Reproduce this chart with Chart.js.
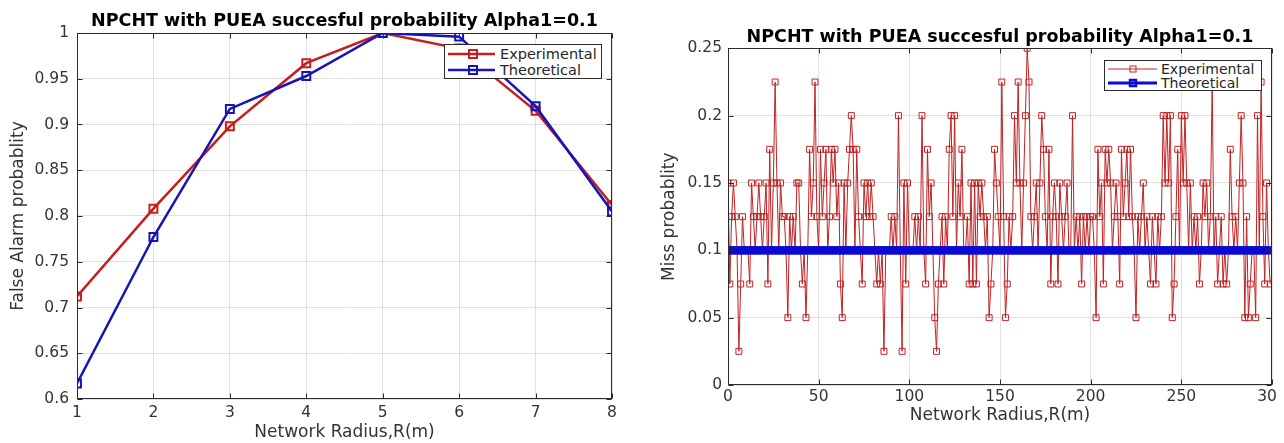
<!DOCTYPE html>
<html>
<head>
<meta charset="utf-8">
<script src="https://cdn.jsdelivr.net/npm/chart.js@4.4.1/dist/chart.umd.min.js"></script>
<style>
html,body{margin:0;padding:0;background:#fff;overflow:hidden;width:1284px;height:443px;}
#wrapL{position:absolute;left:0;top:0;width:640px;height:443px;}
#wrapR{position:absolute;left:640px;top:0;width:636px;height:443px;overflow:hidden;}
.legend{position:absolute;background:#fff;border:1px solid #2b2b2b;font-family:"DejaVu Sans",sans-serif;color:#262626;box-sizing:border-box;}
.legend .row{position:absolute;left:0;height:16px;white-space:nowrap;}
.legend svg{position:absolute;left:0;top:0;}
.legend span{position:absolute;top:0;line-height:16px;}
</style>
</head>
<body>
<div id="wrapL"><canvas id="left" width="640" height="443"></canvas></div>
<div id="wrapR"><canvas id="right" width="700" height="443"></canvas></div>

<div class="legend" id="legL" style="left:444px;top:44px;width:158px;height:35px;font-size:14.5px;">
  <div class="row" style="top:1px;width:156px;">
    <svg width="54" height="16"><line x1="3" y1="8" x2="50" y2="8" stroke="#c41e1e" stroke-width="2.5"/><rect x="24" y="4" width="8" height="8" fill="none" stroke="#c41e1e" stroke-width="2"/></svg>
    <span style="left:55px;">Experimental</span>
  </div>
  <div class="row" style="top:17px;width:156px;">
    <svg width="54" height="16"><line x1="3" y1="8" x2="50" y2="8" stroke="#1414b8" stroke-width="2.5"/><rect x="24" y="4" width="8" height="8" fill="none" stroke="#1414b8" stroke-width="2"/></svg>
    <span style="left:55px;">Theoretical</span>
  </div>
</div>

<div class="legend" id="legR" style="left:1104px;top:60px;width:158px;height:31px;font-size:14px;">
  <div class="row" style="top:0px;width:156px;">
    <svg width="54" height="16"><line x1="3" y1="8" x2="52" y2="8" stroke="#c42424" stroke-width="1"/><rect x="25" y="5" width="6" height="6" fill="none" stroke="#c42424" stroke-width="1"/></svg>
    <span style="left:56px;">Experimental</span>
  </div>
  <div class="row" style="top:14px;width:156px;">
    <svg width="54" height="16"><line x1="3" y1="8" x2="52" y2="8" stroke="#0a0ad2" stroke-width="3"/><rect x="25" y="5" width="6" height="6" fill="none" stroke="#0a0ad2" stroke-width="2.5"/></svg>
    <span style="left:56px;">Theoretical</span>
  </div>
</div>

<script>
// ---------- data: left panel ----------
const radiusLeft = [1, 2, 3, 4, 5, 6, 7, 8];
const falseAlarmExperimental = [0.712, 0.808, 0.898, 0.967, 1.0, 0.983, 0.915, 0.812];
const falseAlarmTheoretical  = [0.617, 0.777, 0.917, 0.953, 1.0, 0.996, 0.920, 0.805];
const xTicksLeft = [1, 2, 3, 4, 5, 6, 7, 8];
const xTickLabelsLeft = ['1', '2', '3', '4', '5', '6', '7', '8'];
const yTicksLeft = [0.6, 0.65, 0.7, 0.75, 0.8, 0.85, 0.9, 0.95, 1];
const yTickLabelsLeft = ['0.6', '0.65', '0.7', '0.75', '0.8', '0.85', '0.9', '0.95', '1'];

// ---------- data: right panel ----------
const missExperimental = [
  0.15, 0.075, 0.125, 0.15, 0.125, 0.1, 0.025, 0.075, 0.125, 0.1,
  0.1, 0.1, 0.075, 0.15, 0.125, 0.1, 0.125, 0.15, 0.125, 0.1,
  0.125, 0.15, 0.075, 0.175, 0.1, 0.15, 0.225, 0.15, 0.1, 0.15,
  0.125, 0.125, 0.1, 0.05, 0.125, 0.1, 0.125, 0.1, 0.15, 0.15,
  0.1, 0.075, 0.1, 0.05, 0.1, 0.175, 0.125, 0.15, 0.225, 0.125,
  0.1, 0.175, 0.125, 0.15, 0.175, 0.1, 0.125, 0.175, 0.15, 0.175,
  0.125, 0.15, 0.075, 0.05, 0.15, 0.1, 0.15, 0.175, 0.2, 0.175,
  0.1, 0.175, 0.125, 0.1, 0.075, 0.15, 0.125, 0.15, 0.125, 0.15,
  0.125, 0.1, 0.075, 0.1, 0.075, 0.1, 0.025, 0.1, 0.1, 0.1,
  0.125, 0.1, 0.125, 0.1, 0.2, 0.1, 0.025, 0.15, 0.075, 0.15,
  0.1, 0.1, 0.1, 0.125, 0.1, 0.125, 0.1, 0.2, 0.1, 0.075,
  0.175, 0.125, 0.15, 0.1, 0.05, 0.025, 0.075, 0.1, 0.125, 0.075,
  0.125, 0.1, 0.175, 0.2, 0.125, 0.2, 0.1, 0.15, 0.125, 0.175,
  0.1, 0.1, 0.125, 0.075, 0.15, 0.075, 0.15, 0.075, 0.15, 0.125,
  0.15, 0.125, 0.1, 0.125, 0.05, 0.075, 0.1, 0.175, 0.15, 0.125,
  0.1, 0.225, 0.125, 0.05, 0.075, 0.125, 0.1, 0.125, 0.2, 0.15,
  0.225, 0.15, 0.1, 0.15, 0.2, 0.25, 0.225, 0.125, 0.1, 0.125,
  0.15, 0.1, 0.15, 0.2, 0.175, 0.125, 0.1, 0.175, 0.075, 0.125,
  0.15, 0.125, 0.075, 0.15, 0.125, 0.1, 0.125, 0.15, 0.1, 0.1,
  0.2, 0.1, 0.125, 0.1, 0.125, 0.075, 0.125, 0.1, 0.125, 0.1,
  0.125, 0.125, 0.1, 0.05, 0.175, 0.125, 0.15, 0.075, 0.175, 0.15,
  0.175, 0.15, 0.1, 0.125, 0.15, 0.125, 0.075, 0.175, 0.125, 0.15,
  0.175, 0.125, 0.175, 0.125, 0.1, 0.05, 0.125, 0.1, 0.125, 0.15,
  0.1, 0.125, 0.1, 0.075, 0.125, 0.1, 0.075, 0.125, 0.1, 0.125,
  0.2, 0.15, 0.2, 0.15, 0.2, 0.05, 0.075, 0.125, 0.175, 0.1,
  0.2, 0.15, 0.2, 0.15, 0.1, 0.15, 0.1, 0.125, 0.1, 0.125,
  0.075, 0.1, 0.15, 0.125, 0.15, 0.1, 0.125, 0.225, 0.1, 0.125,
  0.075, 0.1, 0.125, 0.075, 0.1, 0.075, 0.1, 0.175, 0.125, 0.1,
  0.125, 0.1, 0.15, 0.2, 0.15, 0.05, 0.125, 0.05, 0.075, 0.1,
  0.1, 0.05, 0.2, 0.1, 0.225, 0.125, 0.075, 0.15, 0.1, 0.075
];
const missTheoretical = [
  0.1, 0.1, 0.1, 0.1, 0.1, 0.1, 0.1, 0.1, 0.1, 0.1,
  0.1, 0.1, 0.1, 0.1, 0.1, 0.1, 0.1, 0.1, 0.1, 0.1,
  0.1, 0.1, 0.1, 0.1, 0.1, 0.1, 0.1, 0.1, 0.1, 0.1,
  0.1, 0.1, 0.1, 0.1, 0.1, 0.1, 0.1, 0.1, 0.1, 0.1,
  0.1, 0.1, 0.1, 0.1, 0.1, 0.1, 0.1, 0.1, 0.1, 0.1,
  0.1, 0.1, 0.1, 0.1, 0.1, 0.1, 0.1, 0.1, 0.1, 0.1,
  0.1, 0.1, 0.1, 0.1, 0.1, 0.1, 0.1, 0.1, 0.1, 0.1,
  0.1, 0.1, 0.1, 0.1, 0.1, 0.1, 0.1, 0.1, 0.1, 0.1,
  0.1, 0.1, 0.1, 0.1, 0.1, 0.1, 0.1, 0.1, 0.1, 0.1,
  0.1, 0.1, 0.1, 0.1, 0.1, 0.1, 0.1, 0.1, 0.1, 0.1,
  0.1, 0.1, 0.1, 0.1, 0.1, 0.1, 0.1, 0.1, 0.1, 0.1,
  0.1, 0.1, 0.1, 0.1, 0.1, 0.1, 0.1, 0.1, 0.1, 0.1,
  0.1, 0.1, 0.1, 0.1, 0.1, 0.1, 0.1, 0.1, 0.1, 0.1,
  0.1, 0.1, 0.1, 0.1, 0.1, 0.1, 0.1, 0.1, 0.1, 0.1,
  0.1, 0.1, 0.1, 0.1, 0.1, 0.1, 0.1, 0.1, 0.1, 0.1,
  0.1, 0.1, 0.1, 0.1, 0.1, 0.1, 0.1, 0.1, 0.1, 0.1,
  0.1, 0.1, 0.1, 0.1, 0.1, 0.1, 0.1, 0.1, 0.1, 0.1,
  0.1, 0.1, 0.1, 0.1, 0.1, 0.1, 0.1, 0.1, 0.1, 0.1,
  0.1, 0.1, 0.1, 0.1, 0.1, 0.1, 0.1, 0.1, 0.1, 0.1,
  0.1, 0.1, 0.1, 0.1, 0.1, 0.1, 0.1, 0.1, 0.1, 0.1,
  0.1, 0.1, 0.1, 0.1, 0.1, 0.1, 0.1, 0.1, 0.1, 0.1,
  0.1, 0.1, 0.1, 0.1, 0.1, 0.1, 0.1, 0.1, 0.1, 0.1,
  0.1, 0.1, 0.1, 0.1, 0.1, 0.1, 0.1, 0.1, 0.1, 0.1,
  0.1, 0.1, 0.1, 0.1, 0.1, 0.1, 0.1, 0.1, 0.1, 0.1,
  0.1, 0.1, 0.1, 0.1, 0.1, 0.1, 0.1, 0.1, 0.1, 0.1,
  0.1, 0.1, 0.1, 0.1, 0.1, 0.1, 0.1, 0.1, 0.1, 0.1,
  0.1, 0.1, 0.1, 0.1, 0.1, 0.1, 0.1, 0.1, 0.1, 0.1,
  0.1, 0.1, 0.1, 0.1, 0.1, 0.1, 0.1, 0.1, 0.1, 0.1,
  0.1, 0.1, 0.1, 0.1, 0.1, 0.1, 0.1, 0.1, 0.1, 0.1,
  0.1, 0.1, 0.1, 0.1, 0.1, 0.1, 0.1, 0.1, 0.1, 0.1
];
const xTicksRight = [0, 50, 100, 150, 200, 250, 300];
const xTickLabelsRight = ['0', '50', '100', '150', '200', '250', '300'];
const yTicksRight = [0, 0.05, 0.1, 0.15, 0.2, 0.25];
const yTickLabelsRight = ['0', '0.05', '0.1', '0.15', '0.2', '0.25'];

const TITLE = 'NPCHT with PUEA succesful probability Alpha1=0.1';
const FAMILY = "'DejaVu Sans', sans-serif";
const TEXT = '#333333';
const GRID = '#e0e0e0';

// MATLAB-style axes box with inward ticks
const boxPlugin = {
  id: 'matlabBox',
  afterDraw(chart) {
    const {ctx, chartArea: a, scales} = chart;
    const x = scales.x, y = scales.y;
    const L = Math.round(a.left) + 0.5, R = Math.round(a.right) - 0.5;
    const T = Math.round(a.top) + 0.5, B = Math.round(a.bottom) - 0.5;
    ctx.save();
    ctx.strokeStyle = '#2b2b2b';
    ctx.lineWidth = 1;
    ctx.strokeRect(L, T, R - L, B - T);
    ctx.beginPath();
    const len = 5;
    x.ticks.forEach(t => {
      const px = Math.round(x.getPixelForValue(t.value)) + 0.5;
      ctx.moveTo(px, B); ctx.lineTo(px, B - len);
      ctx.moveTo(px, T); ctx.lineTo(px, T + len);
    });
    y.ticks.forEach(t => {
      const py = Math.round(y.getPixelForValue(t.value)) + 0.5;
      ctx.moveTo(L, py); ctx.lineTo(L + len, py);
      ctx.moveTo(R, py); ctx.lineTo(R - len, py);
    });
    ctx.stroke();
    ctx.restore();
  }
};

function makeChart(id, cfg) {
  return new Chart(document.getElementById(id), {
    type: 'line',
    data: { datasets: cfg.datasets },
    options: {
      responsive: false,
      animation: false,
      devicePixelRatio: 1,
      layout: { padding: { left: 0, right: cfg.padRight, top: 0, bottom: 0 } },
      plugins: {
        legend: { display: false },
        tooltip: { enabled: false },
        title: {
          display: true, fullSize: false, text: TITLE, color: '#000',
          font: { family: FAMILY, size: 17.5, weight: 'bold' },
          padding: cfg.titlePad
        }
      },
      scales: {
        x: {
          type: 'linear', min: cfg.xMin, max: cfg.xMax,
          afterBuildTicks: s => { s.ticks = cfg.xTicks.map(v => ({ value: v })); },
          afterFit: s => { s.height = cfg.xAxisH; },
          ticks: {
            autoSkip: false, maxRotation: 0, padding: cfg.xTickPad, color: TEXT,
            font: { family: FAMILY, size: 15.5 },
            callback: (v, i) => cfg.xLabels[i]
          },
          grid: { color: GRID, drawTicks: false },
          border: { display: false },
          title: {
            display: true, text: 'Network Radius,R(m)', color: TEXT,
            font: { family: FAMILY, size: 17 }, padding: { top: 0, bottom: cfg.xTitlePad }
          }
        },
        y: {
          type: 'linear', min: cfg.yMin, max: cfg.yMax,
          afterBuildTicks: s => { s.ticks = cfg.yTicks.map(v => ({ value: v })); },
          afterFit: s => { s.width = cfg.yAxisW; },
          ticks: {
            padding: cfg.yTickPad, color: TEXT,
            font: { family: FAMILY, size: 15.5 },
            callback: (v, i) => cfg.yLabels[i]
          },
          grid: { color: GRID, drawTicks: false },
          border: { display: false },
          title: {
            display: true, text: cfg.yTitle, color: TEXT,
            font: { family: FAMILY, size: 17 }, padding: { top: cfg.yTitlePad, bottom: 0 }
          }
        }
      }
    },
    plugins: [boxPlugin]
  });
}

const RED = '#c41e1e';
const BLUE = '#1414b8';

makeChart('left', {
  padRight: 28, xAxisH: 44, yAxisW: 77,
  titlePad: { top: 10.5, bottom: 1.5 },
  xMin: 1, xMax: 8, yMin: 0.6, yMax: 1,
  xTicks: xTicksLeft, xLabels: xTickLabelsLeft,
  yTicks: yTicksLeft, yLabels: yTickLabelsLeft,
  xTickPad: 5, yTickPad: 8, xTitlePad: 0, yTitlePad: 8.5,
  yTitle: 'False Alarm probablity',
  datasets: [
    {
      label: 'Experimental', order: 1,
      data: radiusLeft.map((r, i) => ({ x: r, y: falseAlarmExperimental[i] })),
      borderColor: RED, borderWidth: 2.5, tension: 0,
      pointStyle: 'rect', pointRadius: 5.6, pointBorderWidth: 2,
      pointBorderColor: RED, pointBackgroundColor: 'rgba(255,255,255,0)'
    },
    {
      label: 'Theoretical', order: 0,
      data: radiusLeft.map((r, i) => ({ x: r, y: falseAlarmTheoretical[i] })),
      borderColor: BLUE, borderWidth: 2.5, tension: 0,
      pointStyle: 'rect', pointRadius: 5.6, pointBorderWidth: 2,
      pointBorderColor: BLUE, pointBackgroundColor: 'rgba(255,255,255,0)'
    }
  ]
});

makeChart('right', {
  padRight: 68, xAxisH: 58, yAxisW: 88,
  titlePad: { top: 27.3, bottom: 0 },
  xMin: 0, xMax: 300, yMin: 0, yMax: 0.25,
  xTicks: xTicksRight, xLabels: xTickLabelsRight,
  yTicks: yTicksRight, yLabels: yTickLabelsRight,
  xTickPad: 3, yTickPad: 6, xTitlePad: 16.8, yTitlePad: 19.8,
  yTitle: 'Miss probablity',
  datasets: [
    {
      label: 'Experimental', order: 1,
      data: missExperimental.map((v, i) => ({ x: i, y: v })),
      borderColor: '#c02222', borderWidth: 1, tension: 0,
      pointStyle: 'rect', pointRadius: 4.2, pointBorderWidth: 1,
      pointBorderColor: '#c02222', pointBackgroundColor: 'rgba(255,255,255,0)'
    },
    {
      label: 'Theoretical', order: 0,
      data: missTheoretical.map((v, i) => ({ x: i, y: v })),
      borderColor: '#0a0ad2', borderWidth: 3, tension: 0,
      pointStyle: 'rect', pointRadius: 3.8, pointBorderWidth: 2.5,
      pointBorderColor: '#0a0ad2', pointBackgroundColor: '#0a0ad2'
    }
  ]
});
</script>
</body>
</html>
